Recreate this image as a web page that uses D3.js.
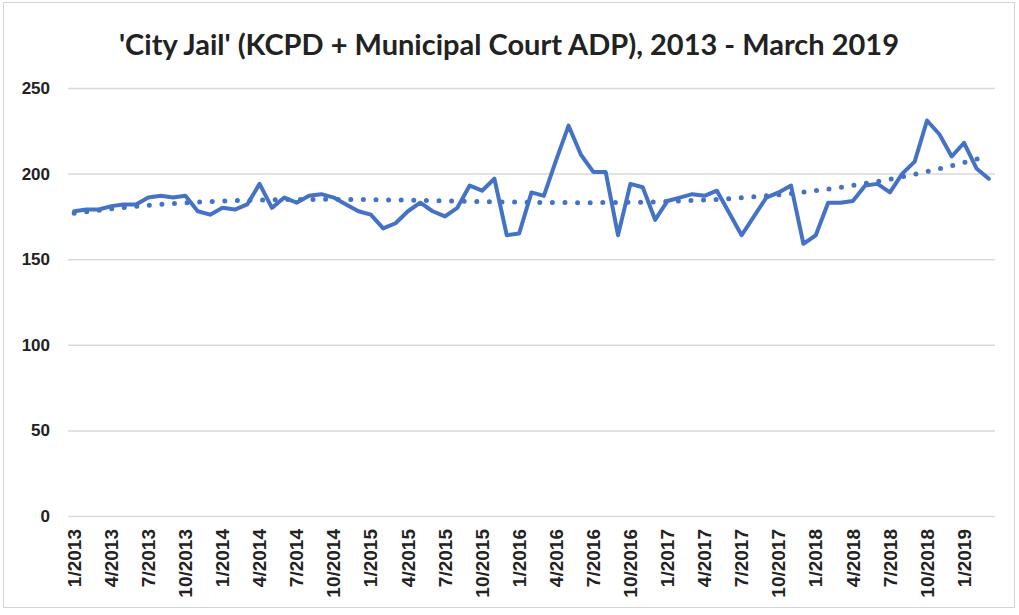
<!DOCTYPE html>
<html>
<head>
<meta charset="utf-8">
<script src="https://cdn.jsdelivr.net/npm/d3@7"></script>
<style>
	html, body { margin: 0; padding: 0; background: #fff; }
	svg { display: block; font-family: Lato, "Open Sans", sans-serif; }
</style>
</head>
<body>
<div id="container"></div>
<script>
// Monthly average daily population, 1/2013 - 3/2019
const years = d3.range(2013, 2020)
const months = years.flatMap(y => d3.range(1, 13).map(m => `${m}/${y}`)).slice(0, 75)

const adp = [
	178, 179, 179, 181, 182, 182, 186, 187, 186, 187,
	178, 176, 180, 179, 182, 194, 180, 186, 183, 187,
	188, 186, 182, 178, 176, 168, 171, 178, 183, 178,
	175, 180, 193, 190, 197, 164, 165, 189, 187, 208,
	228, 211, 201, 201, 164, 194, 192, 173, 184, 186,
	188, 187, 190, 177, 164, 175, 186, 189, 193, 159,
	164, 183, 183, 184, 193, 194, 189, 200, 207, 231,
	223, 210, 218, 203, 197,
]

const yTicks = [0, 50, 100, 150, 200, 250]
const tickEvery = 3

const title = "'City Jail' (KCPD + Municipal Court ADP), 2013 - March 2019"

// 2. Chart dimensions
const width = 1019
const height = 615
const margin = { top: 88, right: 24, bottom: 99, left: 68 }
const blue = "#4472c4"

// polynomial (order 3) least-squares trendline, like Excel's
function polyFit(ys, order) {
	const n = ys.length
	const xs = ys.map((_, i) => i / (n - 1))
	const m = order + 1
	const A = d3.range(m).map(r => d3.range(m + 1).map(c => 0))
	xs.forEach((x, i) => {
		for (let r = 0; r < m; r++) {
			for (let c = 0; c < m; c++) A[r][c] += Math.pow(x, r + c)
			A[r][m] += ys[i] * Math.pow(x, r)
		}
	})
	for (let p = 0; p < m; p++) {
		let best = p
		for (let r = p + 1; r < m; r++) if (Math.abs(A[r][p]) > Math.abs(A[best][p])) best = r
		;[A[p], A[best]] = [A[best], A[p]]
		for (let r = 0; r < m; r++) {
			if (r === p) continue
			const f = A[r][p] / A[p][p]
			for (let c = p; c <= m; c++) A[r][c] -= f * A[p][c]
		}
	}
	const coef = A.map((row, i) => row[m] / row[i])
	return xs.map(x => d3.sum(coef, (c, k) => c * Math.pow(x, k)))
}
const trend = polyFit(adp, 3)

// 3. Draw canvas
const svg = d3.select("#container")
	.append("svg")
	.attr("width", width)
	.attr("height", height)

svg.append("rect")
	.attr("x", 3.5)
	.attr("y", 2.5)
	.attr("width", 1011)
	.attr("height", 605)
	.attr("fill", "#fff")
	.attr("stroke", "#d4d4d4")

svg.append("text")
	.attr("x", 509)
	.attr("y", 55)
	.attr("text-anchor", "middle")
	.style("font-size", "29px")
	.style("font-weight", "bold")
	.style("fill", "#222")
	.text(title)

const x = d3.scaleBand()
	.domain(months)
	.range([margin.left, width - margin.right])

const y = d3.scaleLinear()
	.domain([0, 250])
	.range([height - margin.bottom, margin.top])

// gridlines + y labels
const yAxis = svg.append("g")
	.attr("transform", `translate(${margin.left},0)`)
	.call(d3.axisLeft(y).tickValues(yTicks).tickSize(-(width - margin.left - margin.right)).tickPadding(18))

yAxis.select(".domain").remove()
yAxis.selectAll(".tick line").attr("stroke", "#d9d9d9").attr("stroke-width", 1.5)
yAxis.selectAll(".tick text")
	.style("font-size", "17px")
	.style("font-weight", "bold")
	.style("fill", "#222")

// x axis labels, rotated
const xAxis = svg.append("g")
	.attr("transform", `translate(0,${height - margin.bottom})`)
	.call(d3.axisBottom(x).tickValues(months.filter((d, i) => i % tickEvery === 0)).tickSize(0))

xAxis.select(".domain").remove()
xAxis.selectAll(".tick text")
	.attr("transform", "rotate(-90)")
	.attr("text-anchor", "end")
	.attr("x", -13)
	.attr("y", 0)
	.attr("dy", "0.35em")
	.style("font-size", "19px")
	.style("font-weight", "bold")
	.style("fill", "#222")

const cx = d => x(d) + x.bandwidth() / 2

// trendline (dotted)
svg.append("path")
	.datum(trend)
	.attr("fill", "none")
	.attr("stroke", blue)
	.attr("stroke-width", 5)
	.attr("stroke-linecap", "round")
	.attr("stroke-dasharray", "0 12.6")
	.attr("d", d3.line().x((d, i) => cx(months[i])).y(d => y(d)))

// data line
svg.append("path")
	.datum(adp)
	.attr("fill", "none")
	.attr("stroke", blue)
	.attr("stroke-width", 4)
	.attr("stroke-linejoin", "round")
	.attr("stroke-linecap", "round")
	.attr("d", d3.line().x((d, i) => cx(months[i])).y(d => y(d)))
</script>
</body>
</html>
